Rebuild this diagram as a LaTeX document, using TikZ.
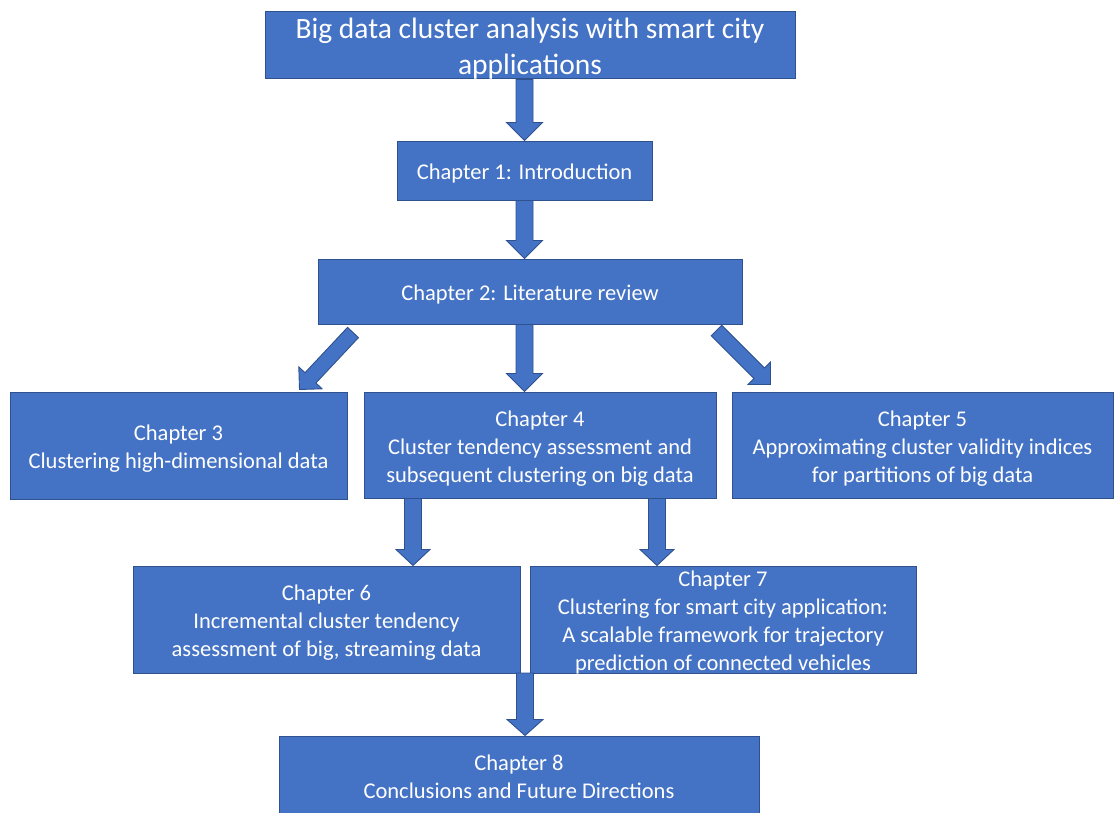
\documentclass[tikz,border=0pt]{standalone}
\usepackage{fontspec}
\setmainfont{Carlito}
\usetikzlibrary{calc}

\definecolor{boxfill}{HTML}{4472C4}
\definecolor{boxedge}{HTML}{2F528F}

% extra head room on the first line of a box
\newcommand{\toproom}{\rule{0pt}{22pt}}
\newcommand{\titleroom}{\rule{0pt}{27pt}}

\tikzset{
  chapbox/.style={rectangle, draw=boxedge, fill=boxfill, line width=1pt,
    text=white, align=center, inner sep=0pt,
    font=\fontsize{22.5}{28}\selectfont},
  titlebox/.style={chapbox, font=\fontsize{29.5}{36}\selectfont},
  barrow/.style={draw=boxedge, fill=boxfill, line width=0.9pt, line join=miter}
}

% Block arrow from #1 (tail) to #2 (tip):
% #3 half shaft width, #4 half head width, #5 head length
\newcommand{\blockarrow}[5]{%
  \path ($(#2)!#5!(#1)$) coordinate (hb);
  \filldraw[barrow]
    ($(#1)!#3!90:(#2)$) -- ($(hb)!#3!90:(#2)$) -- ($(hb)!#4!90:(#2)$)
    -- (#2) -- ($(hb)!#4!-90:(#2)$) -- ($(hb)!#3!-90:(#2)$)
    -- ($(#1)!#3!-90:(#2)$) -- cycle;
}

\begin{document}
\begin{tikzpicture}[x=1pt, y=-1pt]
\useasboundingbox (0,0) rectangle (1115,812);

% boxes (centre, size)
\node[titlebox, minimum width=530, minimum height=66] (title) at (530,45)
  {\titleroom Big data cluster analysis with smart city\\applications};
\node[chapbox, minimum width=255, minimum height=59] (ch1) at (524.5,170.5)
  {\toproom Chapter 1: Introduction};
\node[chapbox, minimum width=424, minimum height=65] (ch2) at (530,291.5)
  {\toproom Chapter 2: Literature review};
\node[chapbox, minimum width=337, minimum height=107] (ch3) at (178.5,445.5)
  {\toproom Chapter 3\\Clustering high-dimensional data};
\node[chapbox, minimum width=352, minimum height=106] (ch4) at (540,445)
  {\toproom Chapter 4\\Cluster tendency assessment and\\subsequent clustering on big data};
\node[chapbox, minimum width=381, minimum height=106] (ch5) at (922.5,445)
  {\toproom Chapter 5\\Approximating cluster validity indices\\for partitions of big data};
\node[chapbox, minimum width=387, minimum height=107] (ch6) at (326.5,619.5)
  {\toproom Chapter 6\\Incremental cluster tendency\\assessment of big, streaming data};
\node[chapbox, inner ysep=-4pt, minimum width=386, minimum height=107] (ch7) at (723,619.5)
  {\toproom Chapter 7\\Clustering for smart city application:\\A scalable framework for trajectory\\prediction of connected vehicles};
\node[chapbox, minimum width=480, minimum height=82] (ch8) at (519,777)
  {Chapter 8\\Conclusions and Future Directions};

% arrow end points
\coordinate (t1) at (ch1.north |- title.south);
\coordinate (t2a) at ($(ch2.south west)+(35.5,8)$);
\coordinate (h2a) at ($(ch3.north east)+(-48,-2)$);
\coordinate (t2b) at (ch1.south |- ch2.south);
\coordinate (h2b) at (ch1.south |- ch4.north);
\coordinate (t2c) at ($(ch2.south east)+(-26,6)$);
\coordinate (h2c) at ($(ch5.north west)+(39,-7)$);
\coordinate (t4a) at ($(ch4.south west)+(49.5,0)$);
\coordinate (h4a) at (t4a |- ch6.north);
\coordinate (t4b) at ($(ch4.south west)+(293.5,0)$);
\coordinate (h4b) at (t4b |- ch7.north);
\coordinate (t7) at (525,673);
\coordinate (h7) at (t7 |- ch8.north);

\blockarrow{t1}{ch1.north}{8.5pt}{18pt}{18pt}
\blockarrow{ch1.south}{t2b |- ch2.north}{8.5pt}{18pt}{18pt}
\blockarrow{t2a}{h2a}{7.5pt}{16pt}{16pt}
\blockarrow{t2b}{h2b}{8.5pt}{18pt}{18pt}
\blockarrow{t2c}{h2c}{7.5pt}{16pt}{16pt}
\blockarrow{t4a}{h4a}{8.5pt}{17pt}{16pt}
\blockarrow{t4b}{h4b}{8.5pt}{17pt}{16pt}
\blockarrow{t7}{h7}{8.5pt}{18pt}{16pt}
\end{tikzpicture}
\end{document}
